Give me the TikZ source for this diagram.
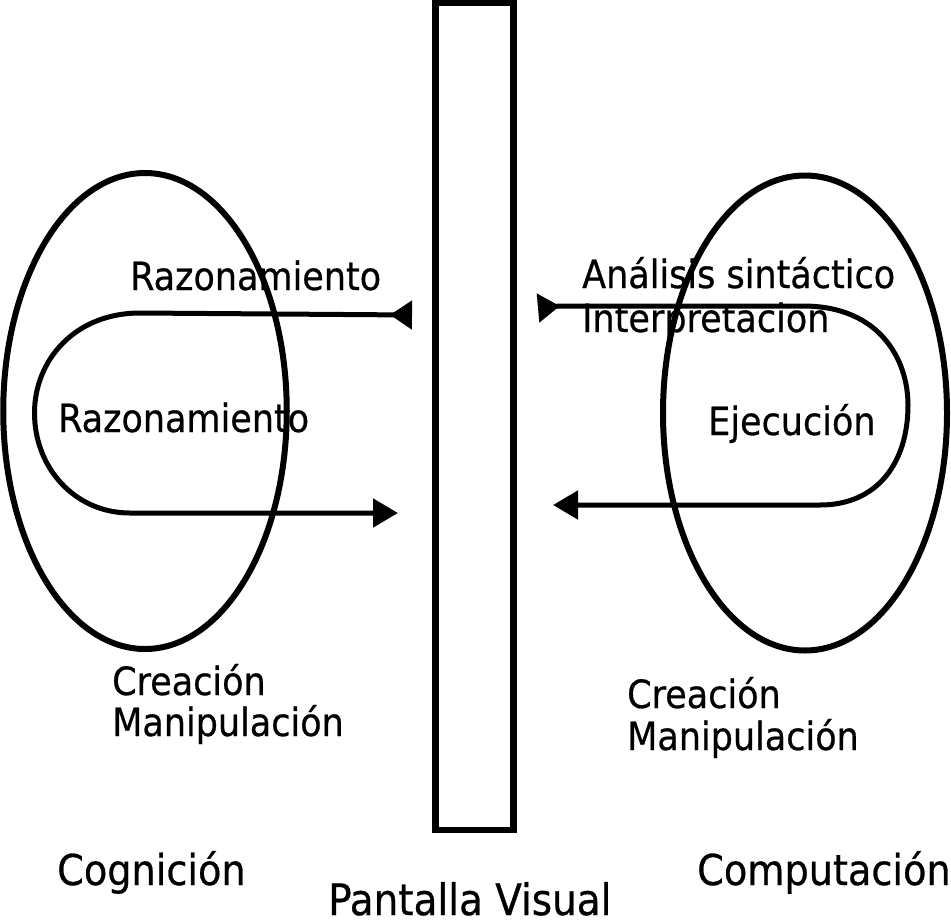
\documentclass[tikz,border=0pt]{standalone}
\usepackage{fontspec}
\setmainfont{DejaVu Sans Condensed}[FakeBold=0.6]
\usetikzlibrary{shapes.geometric,arrows.meta}
\begin{document}
\begin{tikzpicture}[x=1pt,y=-1pt,
  oval/.style={draw,ellipse,line width=6pt,inner sep=0pt},
  screen/.style={draw,rectangle,line width=6.5pt,inner sep=0pt,minimum width=78pt,minimum height=827pt},
  flow/.style={line width=5pt},
  lbl/.style={anchor=base west,inner sep=0pt,font=\fontsize{38.9}{44}\selectfont},
  lblB/.style={anchor=base west,inner sep=0pt,font=\fontsize{42.5}{48}\selectfont},
  tipin/.tip={Triangle[reversed,length=22pt,width=28pt]},
  tipout/.tip={Triangle[length=25pt,width=28pt]}]
\useasboundingbox (0,0) rectangle (951,919);
% screen
\node[screen] (pantalla) at (474.5,416.5) {};
% ellipses
\node[oval,minimum width=283.5pt,minimum height=476pt] (cog) at (145,411) {};
\node[oval,minimum width=284pt,minimum height=475pt] (comp) at (805,413) {};
% left loop
\coordinate (La) at (412,315);
\coordinate (Lb) at (398,513);
\draw[flow,tipin-tipout] (La) -- (140,313) .. controls (75,313) and (34.5,360) .. (34.5,413) .. controls (34.5,468) and (75,513) .. (130,513) -- (Lb);
% right loop
\coordinate (Ra) at (538,308);
\coordinate (Rb) at (553,505);
\draw[flow,tipin-tipout] (Ra) -- (560,306) -- (803,306) .. controls (880,306) and (908,360) .. (908,405) .. controls (908,462) and (878,505) .. (820,505) -- (Rb);
% labels
\node[lbl] (raz1) at (130,290) {Razonamiento};
\node[lbl] (raz2) at (58,432) {Razonamiento};
\node[lbl] (ana) at (582,288) {Análisis sintáctico};
\node[lbl] (int) at (582,332) {Interpretacion};
\node[lbl] (eje) at (708,435) {Ejecución};
\node[lbl] (creL) at (112,695) {Creación};
\node[lbl] (manL) at (112,736) {Manipulación};
\node[lbl] (creR) at (627,708) {Creación};
\node[lbl] (manR) at (627,750) {Manipulación};
\node[lblB] (cogn) at (57,885) {Cognición};
\node[lblB] (compu) at (697,885) {Computación};
\node[lblB,font=\fontsize{43.3}{48}\selectfont] (pant) at (328,915) {Pantalla Visual};
\end{tikzpicture}
\end{document}
